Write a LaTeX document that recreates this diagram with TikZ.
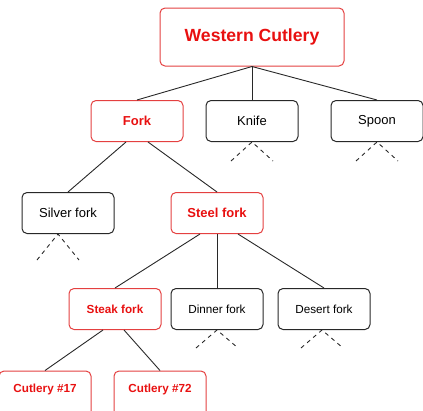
\documentclass[tikz,border=0pt]{standalone}
\usepackage{fontspec}
\usepackage{xcolor}
\usepackage{tikz}
\usetikzlibrary{positioning, calc}
\setmainfont{Liberation Sans}
\definecolor{cutleryred}{RGB}{232, 16, 16}
\definecolor{edgered}{RGB}{228, 64, 64}
\definecolor{linegray}{RGB}{40, 40, 40}

\tikzset{
    itembox/.style={draw=linegray, line width=1pt, rounded corners=5pt,
          minimum width=92pt, minimum height=41pt, inner sep=2pt, align=center},
    pickbox/.style={itembox, draw=edgered, text=cutleryred, font=\bfseries\fontsize{13}{15}\selectfont},
    bigtext/.style={font=\fontsize{13}{15}\selectfont},
    smalltext/.style={font=\fontsize{11.7}{14}\selectfont},
    branch/.style={draw=linegray, line width=0.9pt},
    stub/.style={draw=linegray, line width=0.9pt, dash pattern=on 4pt off 4pt}
}

\begin{document}
\begin{tikzpicture}[x=1pt, y=-1pt]
    \useasboundingbox (0,0) rectangle (423,410);

    % top level
    \node[pickbox, minimum width=184pt, minimum height=58pt,
          font=\bfseries\fontsize{17.6}{20}\selectfont] (western) at (252,37) {Western Cutlery};

    % second row
    \node[pickbox] (fork) at (137,121) {Fork};
    \node[itembox, bigtext] (knife) at (252,121) {Knife};
    \node[itembox, bigtext] (spoon) at (377,121) {Spoon};

    % third row
    \node[itembox, bigtext] (silver) at (68,213) {Silver fork};
    \node[pickbox] (steel) at (217,213) {Steel fork};

    % fourth row
    \node[pickbox, font=\bfseries\fontsize{11.7}{14}\selectfont] (steak) at (115,309) {Steak fork};
    \node[itembox, smalltext] (dinner) at (217,309) {Dinner fork};
    \node[itembox, smalltext] (desert) at (324,309) {Desert fork};

    % last row (runs off the bottom)
    \node[pickbox, font=\bfseries\fontsize{11.7}{14}\selectfont, minimum height=46pt,
          text depth=12pt] (cut17) at (45,394) {Cutlery \#17};
    \node[pickbox, font=\bfseries\fontsize{11.7}{14}\selectfont, minimum height=46pt,
          text depth=12pt] (cut72) at (160,394) {Cutlery \#72};

    % branches
    \draw[branch] (western.south) -- (fork.north);
    \draw[branch] (western.south) -- (knife.north);
    \draw[branch] (western.south) -- (spoon.north);
    \draw[branch] ($(fork.south)+(-11,0)$) -- (silver.north);
    \draw[branch] ($(fork.south)+(11,0)$) -- (steel.north);
    \draw[branch] ($(steel.south)+(-17,0)$) -- (steak.north);
    \draw[branch] (steel.south) -- (dinner.north);
    \draw[branch] ($(steel.south)+(21,0)$) -- (desert.north);
    \draw[branch] ($(steak.south)+(-12,0)$) -- (cut17.north);
    \draw[branch] ($(steak.south)+(9,0)$) -- (cut72.north);

    % unexpanded items
    \foreach \n/\dx/\dy in {silver/-10/26, knife/0/19, spoon/0/19, dinner/0/18, desert/-2/18} {
        \coordinate (\n top) at ($(\n.south)+(\dx,0)$);
        \draw[stub] ($(\n top)+(-21,\dy)$) -- (\n top) -- ($(\n top)+(21,\dy)$);
    }
\end{tikzpicture}
\end{document}
